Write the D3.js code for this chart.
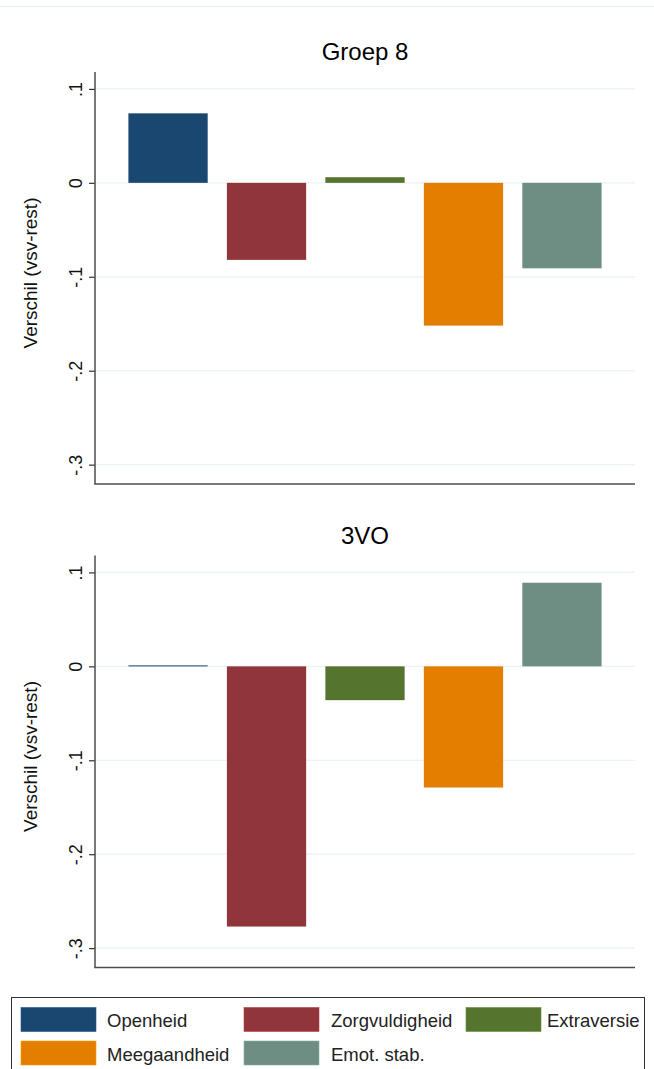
<!DOCTYPE html>
<html>
<head>
<meta charset="utf-8">
<script src="https://cdn.jsdelivr.net/npm/d3@7"></script>
<style>
  html, body { margin: 0; padding: 0; background: #fff; }
  svg { display: block; font-family: "Liberation Sans", Arial, sans-serif; }
</style>
</head>
<body>
<svg id="chart" width="654" height="1069"></svg>
<script>
const categories = ["Openheid", "Zorgvuldigheid", "Extraversie", "Meegaandheid", "Emot. stab."];
const colors = ["#1a476f", "#90353b", "#55752f", "#e37e00", "#6e8e84"];
const panelTitles = ["Groep 8", "3VO"];
const groep8Values = [0.074, -0.082, 0.006, -0.152, -0.091];
const vo3Values = [0.001, -0.277, -0.036, -0.129, 0.089];
const tickValues = [0.1, 0, -0.1, -0.2, -0.3];
const tickLabels = [".1", "0", "-.1", "-.2", "-.3"];
const yTitle = "Verschil (vsv-rest)";

const svg = d3.select("#chart");

// top faint border line
svg.append("line").attr("x1", 0).attr("x2", 654).attr("y1", 6.5).attr("y2", 6.5)
  .attr("stroke", "#e6eded").attr("stroke-width", 1);

const plotLeft = 95, plotRight = 635;
const panels = [
  { title: panelTitles[0], values: groep8Values, top: 72, bottom: 484 },
  { title: panelTitles[1], values: vo3Values, top: 555.5, bottom: 967.5 }
];

const x = d3.scaleBand().domain(categories)
  .range([plotLeft + 23.8, plotRight - 23.8])
  .paddingInner(0.195).paddingOuter(0.0975);

panels.forEach(p => {
  const g = svg.append("g");
  const y = d3.scaleLinear().domain([-0.3206, 0.118]).range([p.bottom, p.top]);

  // gridlines
  g.selectAll("line.grid").data(tickValues).join("line")
    .attr("class", "grid")
    .attr("x1", plotLeft).attr("x2", plotRight)
    .attr("y1", d => y(d)).attr("y2", d => y(d))
    .attr("stroke", "#eaf2f3").attr("stroke-width", 1.2);

  // bars
  g.selectAll("rect.bar").data(p.values).join("rect")
    .attr("class", "bar")
    .attr("x", (d, i) => x(categories[i]))
    .attr("width", x.bandwidth())
    .attr("y", d => y(Math.max(0, d)))
    .attr("height", d => Math.max(1, Math.abs(y(d) - y(0))))
    .attr("fill", (d, i) => colors[i]);

  // y axis
  const axis = d3.axisLeft(y).tickValues(tickValues)
    .tickFormat((d, i) => tickLabels[i]).tickSize(6).tickPadding(0);
  const ax = g.append("g").attr("transform", `translate(${plotLeft},0)`).call(axis);
  ax.select(".domain").remove();
  ax.selectAll(".tick line").attr("stroke", "#333").attr("stroke-width", 1.2);
  ax.selectAll(".tick text").remove();
  ax.selectAll(".tick").append("text")
    .attr("transform", "translate(-13,0) rotate(-90)")
    .attr("text-anchor", "middle")
    .attr("font-size", 18)
    .attr("fill", "#111")
    .text((d, i) => tickLabels[i]);

  // axis lines
  g.append("line").attr("x1", plotLeft).attr("x2", plotLeft)
    .attr("y1", p.top).attr("y2", p.bottom)
    .attr("stroke", "#4d4d4d").attr("stroke-width", 1.5);
  g.append("line").attr("x1", plotLeft - 0.75).attr("x2", plotRight)
    .attr("y1", p.bottom).attr("y2", p.bottom)
    .attr("stroke", "#4d4d4d").attr("stroke-width", 1.5);

  // title
  g.append("text").attr("x", (plotLeft + plotRight) / 2).attr("y", p.top - 12)
    .attr("text-anchor", "middle").attr("font-size", 24).attr("fill", "#000")
    .text(p.title);

  // y title
  g.append("text")
    .attr("transform", `translate(37,${(p.top + p.bottom) / 2 - 5}) rotate(-90)`)
    .attr("text-anchor", "middle").attr("font-size", 19).attr("fill", "#111")
    .text(yTitle);
});

// legend
const legend = svg.append("g");
legend.append("rect").attr("x", 11.5).attr("y", 997.5).attr("width", 633).attr("height", 100)
  .attr("fill", "#fff").attr("stroke", "#333").attr("stroke-width", 1);
const colX = [21, 244, 466];
const textX = [107, 331, 547];
const rowY = [1007.5, 1041];
categories.forEach((c, i) => {
  const col = i % 3, row = Math.floor(i / 3);
  legend.append("rect").attr("x", colX[col]).attr("y", rowY[row])
    .attr("width", 75).attr("height", 24).attr("fill", colors[i])
    .attr("stroke", d3.color(colors[i]).brighter(0.6)).attr("stroke-width", 0.6);
  legend.append("text").attr("x", textX[col]).attr("y", rowY[row] + 19.5)
    .attr("font-size", 18.5).attr("fill", "#222").text(c);
});
</script>
</body>
</html>
